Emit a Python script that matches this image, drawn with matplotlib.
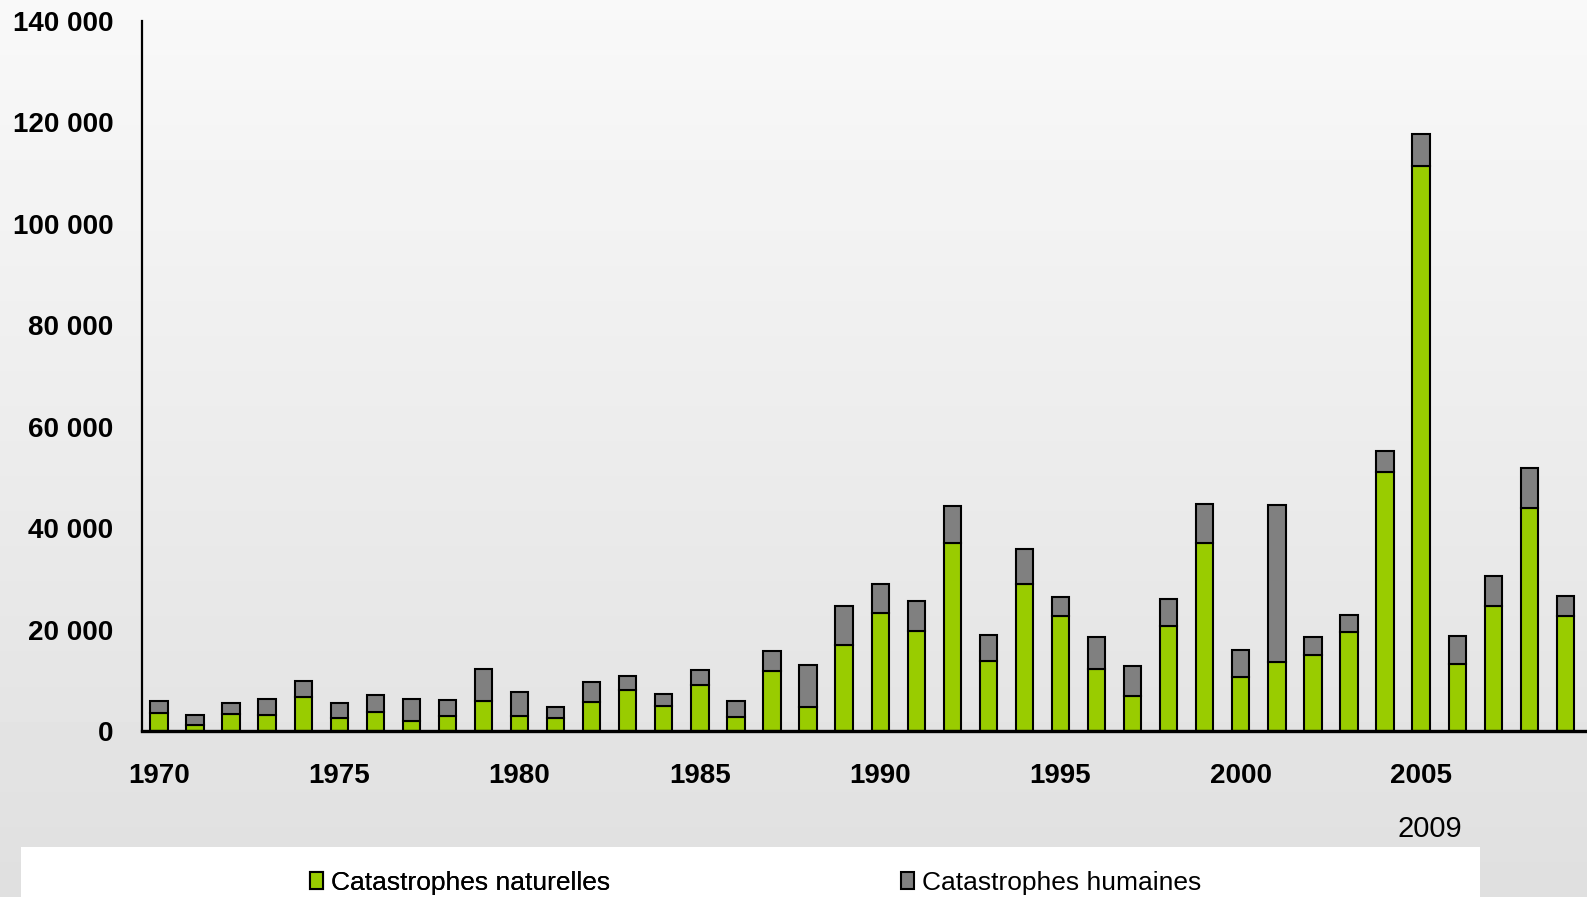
import numpy as np
import matplotlib
matplotlib.use("Agg")
import matplotlib.pyplot as plt
from matplotlib.patches import Rectangle

years = list(range(1970, 2010))
naturelles = [3600, 1200, 3400, 3100, 6700, 2600, 3700, 1900, 3000, 5900,
              3000, 2600, 5700, 8000, 5000, 9000, 2800, 11800, 4800, 17000,
              23200, 19800, 37000, 13800, 29000, 22600, 12200, 7000, 20700, 37100,
              10700, 13700, 14900, 19500, 51000, 111500, 13200, 24600, 44000, 22600]
totaux = [6000, 3100, 5600, 6400, 9900, 5500, 7100, 6300, 6100, 12200,
          7600, 4800, 9600, 10800, 7200, 12000, 6000, 15800, 13000, 24600,
          29000, 25600, 44300, 19000, 35800, 26400, 18500, 12800, 26000, 44800,
          16000, 44600, 18500, 22900, 55200, 117800, 18800, 30500, 51900, 26700]
humaines = [t - n for t, n in zip(totaux, naturelles)]
label_years = [1970, 1975, 1980, 1985, 1990, 1995, 2000, 2005]
y_ticks = [0, 20000, 40000, 60000, 80000, 100000, 120000, 140000]

W, H = 1587, 897
fig = plt.figure(figsize=(W / 100, H / 100), dpi=100)

# gradient background
bg = fig.add_axes([0, 0, 1, 1], zorder=-10)
grad = np.linspace(0.975, 0.875, 256).reshape(-1, 1)
bg.imshow(grad, cmap="gray", vmin=0, vmax=1, aspect="auto", extent=[0, 1, 0, 1])
bg.set_axis_off()

# white legend band
fig.patches.append(Rectangle((21 / W, 0), (1480 - 21) / W, (H - 847) / H,
                             transform=fig.transFigure, facecolor="white",
                             edgecolor="none", zorder=-5))

ax_left, ax_right = 142, 1587
ax_bottom, ax_top = 731, 21
ax = fig.add_axes([ax_left / W, (H - ax_bottom) / H,
                   (ax_right - ax_left) / W, (ax_bottom - ax_top) / H])
ax.patch.set_alpha(0)

x = np.arange(len(years))
bw = 0.48
b1 = ax.bar(x, naturelles, width=bw, color="#99CC00", edgecolor="black",
            linewidth=1.5, label="Catastrophes naturelles", zorder=3)
b2 = ax.bar(x, humaines, width=bw, bottom=naturelles, color="#808080",
            edgecolor="black", linewidth=1.5, label="Catastrophes humaines", zorder=3)

ax.set_xlim(-0.47, 39.6)
ax.set_ylim(0, 140000)
ax.set_yticks(y_ticks)
ax.set_yticklabels([f"{v:,}".replace(",", " ") for v in y_ticks],
                   fontsize=20, fontweight="bold", family="Liberation Sans")
ax.set_xticks([y - 1970 for y in label_years])
ax.set_xticklabels([str(y) for y in label_years], fontsize=20,
                   fontweight="bold", family="Liberation Sans")
ax.tick_params(axis="both", length=0)
ax.tick_params(axis="y", pad=20.5)
ax.tick_params(axis="x", pad=23)
for s in ["top", "right"]:
    ax.spines[s].set_visible(False)
ax.spines["left"].set_linewidth(1.6)
ax.spines["bottom"].set_linewidth(2.4)
ax.spines["bottom"].set_zorder(4)

fig.text(1430 / W, 1 - 829 / H, "2009", ha="center", va="center",
         fontsize=21, family="Liberation Sans")

leg_kw = dict(loc="center left", frameon=False,
              prop={"family": "Liberation Sans", "size": 19},
              handlelength=0.5, handleheight=0.6, handletextpad=0.3,
              borderpad=0, borderaxespad=0)
leg1 = fig.legend(handles=[b1], bbox_to_anchor=(310 / W, 1 - 883 / H), **leg_kw)
fig.add_artist(leg1)
fig.legend(handles=[b2], bbox_to_anchor=(901 / W, 1 - 883 / H), **leg_kw)

fig.savefig("out.png", dpi=100)
